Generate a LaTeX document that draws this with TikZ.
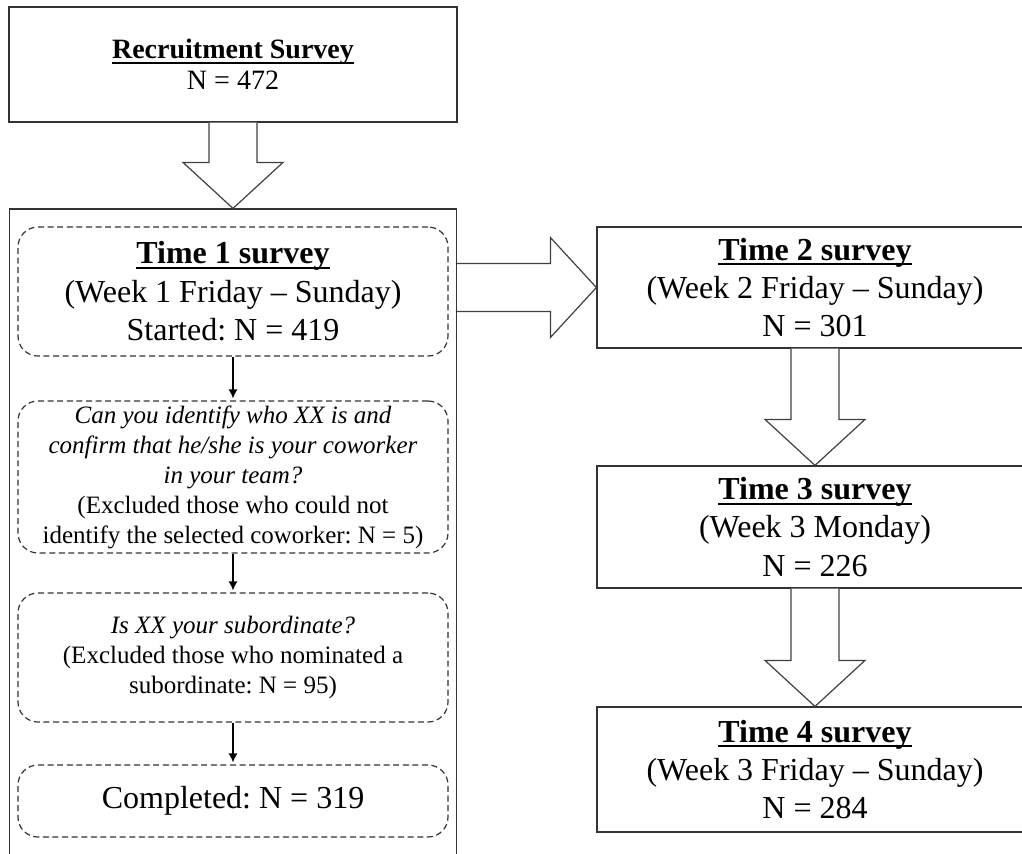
\documentclass[tikz,border=0pt]{standalone}
\usepackage{fontspec}
\setmainfont{Liberation Serif}
\frenchspacing
\usepackage{tikz}
\usetikzlibrary{
    arrows,
    arrows.meta,
    shapes,
    calc,
    petri,
    positioning,
}
\newcommand{\titleul}[1]{\sbox0{\bfseries #1}\rlap{\rule[-2.6pt]{\wd0}{0.9pt}}\usebox0}

\begin{document}
\begin{tikzpicture}[x=0.5pt,y=-0.5pt,>=stealth',auto]

    \tikzstyle{commonNode}=[align=center, line width=0.6pt, draw=black!80, text=black]
    \tikzstyle{survey}=[commonNode, rectangle, minimum width=218pt, minimum height=61pt, inner sep=2pt, font=\fontsize{16}{19.2}\selectfont]
    \tikzstyle{container}=[commonNode, rectangle, inner sep=0pt]
    \tikzstyle{stage}=[commonNode, rectangle, rounded corners=10pt, dash pattern=on 3pt off 1.8pt, minimum width=215pt, inner sep=1pt, font=\fontsize{16}{19.2}\selectfont]
    \tikzstyle{question}=[stage, font=\fontsize{12.5}{15}\selectfont]
    \tikzstyle{bigArrow}=[line width=0.6pt, draw=black!75, fill=white]
    \tikzstyle{stepIn}=[pre, line width=0.6pt, >={Latex[length=4.5pt,width=4.5pt]}]

    \useasboundingbox (0,0) rectangle (1022,853);

    \begin{scope}
        % Sizes of the block arrows
        \def \shaftw {24}
        \def \headw {50}
        \def \headl {46}

        % Recruitment and the Time 1 block
        \node at (233, 64.5) [commonNode, minimum width=224pt, minimum height=57.5pt, font=\fontsize{14}{15.5}\selectfont] (rec) {\titleul{Recruitment Survey}\\N = 472};
        \node at (233, 540) [container, minimum width=223.5pt, minimum height=331pt] (T1block) {};

        % Steps inside Time 1
        \node at (233, 291.5) [stage, minimum height=64.5pt] (t1) {\titleul{Time 1 survey}\\(Week 1 Friday – Sunday)\\Started: N = 419};
        \node at (233, 477)   [question, minimum height=76pt] (q1) {\textit{Can you identify who XX is and}\\\textit{confirm that he/she is your coworker}\\\textit{in your team?}\\(Excluded those who could not\\identify the selected coworker: N = 5)}
            edge  [stepIn]   (t1);
        \node at (233, 657.5) [question, minimum height=64.5pt] (q2) {\textit{Is XX your subordinate?}\\(Excluded those who nominated a\\subordinate: N = 95)}
            edge  [stepIn]   (q1);
        \node at (233, 801)   [stage, minimum height=36pt] (done) {Completed: N = 319}
            edge  [stepIn]   (q2);

        % Later surveys
        \node at (815, 287.5) [survey, minimum height=60.5pt] (t2) {\titleul{Time 2 survey}\\(Week 2 Friday – Sunday)\\N = 301};
        \node at (815, 527)   [survey] (t3) {\titleul{Time 3 survey}\\(Week 3 Monday)\\N = 226};
        \node at (815, 769.5) [survey, minimum height=62.5pt] (t4) {\titleul{Time 4 survey}\\(Week 3 Friday – Sunday)\\N = 284};

        % Block arrows
        \draw[bigArrow] ($(rec.south)+(-\shaftw,0)$) -- ($(T1block.north)+(-\shaftw,-\headl)$) -- ($(T1block.north)+(-\headw,-\headl)$) -- (T1block.north) -- ($(T1block.north)+(\headw,-\headl)$) -- ($(T1block.north)+(\shaftw,-\headl)$) -- ($(rec.south)+(\shaftw,0)$);
        \draw[bigArrow] ($(T1block.east |- t2.west)+(0,-\shaftw)$) -- ($(t2.west)+(-\headl,-\shaftw)$) -- ($(t2.west)+(-\headl,-\headw)$) -- (t2.west) -- ($(t2.west)+(-\headl,\headw)$) -- ($(t2.west)+(-\headl,\shaftw)$) -- ($(T1block.east |- t2.west)+(0,\shaftw)$);
        \draw[bigArrow] ($(t2.south)+(-\shaftw,0)$) -- ($(t3.north)+(-\shaftw,-\headl)$) -- ($(t3.north)+(-\headw,-\headl)$) -- (t3.north) -- ($(t3.north)+(\headw,-\headl)$) -- ($(t3.north)+(\shaftw,-\headl)$) -- ($(t2.south)+(\shaftw,0)$);
        \draw[bigArrow] ($(t3.south)+(-\shaftw,0)$) -- ($(t4.north)+(-\shaftw,-\headl)$) -- ($(t4.north)+(-\headw,-\headl)$) -- (t4.north) -- ($(t4.north)+(\headw,-\headl)$) -- ($(t4.north)+(\shaftw,-\headl)$) -- ($(t3.south)+(\shaftw,0)$);
    \end{scope}
\end{tikzpicture}
\end{document}
